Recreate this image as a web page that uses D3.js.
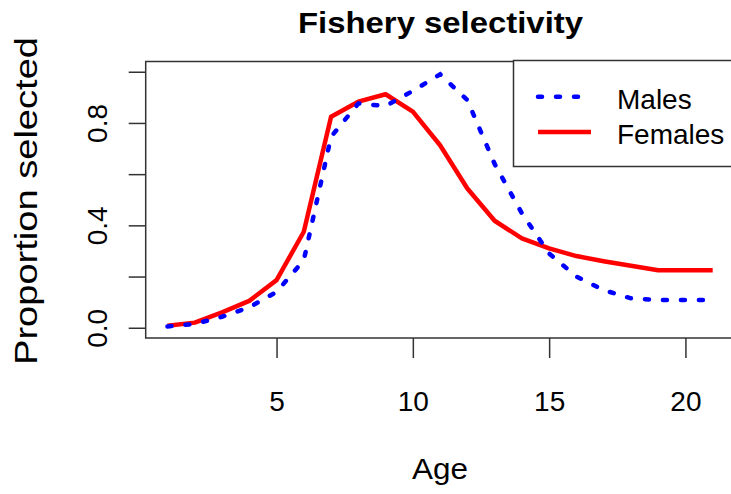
<!DOCTYPE html>
<html>
<head>
<meta charset="utf-8">
<script src="https://cdn.jsdelivr.net/npm/d3@7"></script>
<style>
  body { margin: 0; background: #fff; }
  text { font-family: "Liberation Sans", Arial, sans-serif; fill: #000; }
</style>
</head>
<body>
<div id="viz"></div>
<script>
const ages = [1, 2, 3, 4, 5, 6, 7, 8, 9, 10, 11, 12, 13, 14, 15, 16, 17, 18, 19, 20, 21];
const males = [0.005, 0.015, 0.043, 0.08, 0.14, 0.264, 0.746, 0.876, 0.866, 0.925, 0.99, 0.889, 0.64, 0.447, 0.29, 0.2, 0.147, 0.115, 0.108, 0.108, 0.108];
const females = [0.008, 0.02, 0.06, 0.105, 0.186, 0.375, 0.824, 0.883, 0.912, 0.844, 0.713, 0.544, 0.418, 0.349, 0.31, 0.28, 0.26, 0.242, 0.225, 0.225, 0.225];
const xTicks = [5, 10, 15, 20];
const yTicks = [0, 0.2, 0.4, 0.6, 0.8, 1.0];
const yLabelled = [0, 0.4, 0.8];
const legendNames = ['Males', 'Females'];

const width = 731;
const height = 494;
const plot = { left: 145.7, right: 734.5, top: 61.5, bottom: 338 };

const x = d3.scaleLinear().domain([0.2, 21.8]).range([plot.left, plot.right]);
const y = d3.scaleLinear().domain([-0.04, 1.04]).range([plot.bottom, plot.top]);

const svg = d3
  .select('#viz')
  .append('svg')
  .attr('width', width)
  .attr('height', height);

svg.append('rect').attr('width', width).attr('height', height).attr('fill', '#fff');

// axes
const xAxis = svg
  .append('g')
  .attr('transform', `translate(0,${plot.bottom})`)
  .call(d3.axisBottom(x).tickValues(xTicks).tickSize(20));

const yAxis = svg
  .append('g')
  .attr('transform', `translate(${plot.left},0)`)
  .call(
    d3.axisLeft(y)
      .tickValues(yTicks)
      .tickSize(17)
      .tickFormat(d => (yLabelled.some(v => Math.abs(v - d) < 1e-9) ? d.toFixed(1) : ''))
  );

[xAxis, yAxis].forEach(g => {
  g.select('.domain').remove();
  g.selectAll('.tick line').attr('stroke', '#333').attr('stroke-width', 1.5);
  g.selectAll('.tick text')
    .style('font-family', '"Liberation Sans", Arial, sans-serif')
    .style('font-size', '28px')
    .attr('fill', '#000');
});

xAxis.selectAll('.tick text').attr('dy', null).attr('y', 73);

yAxis.selectAll('.tick text')
  .attr('x', null)
  .attr('dy', null)
  .attr('text-anchor', 'middle')
  .attr('transform', 'translate(-39,0) rotate(-90)');

// plot box
svg
  .append('rect')
  .attr('x', plot.left)
  .attr('y', plot.top)
  .attr('width', plot.right - plot.left)
  .attr('height', plot.bottom - plot.top)
  .attr('fill', 'none')
  .attr('stroke', '#333')
  .attr('stroke-width', 1.5);

// lines
const line = d3.line().x((d, i) => x(ages[i])).y(d => y(d));

svg
  .append('path')
  .datum(females)
  .attr('d', line)
  .attr('fill', 'none')
  .attr('stroke', '#ff0000')
  .attr('stroke-width', 4.5)
  .attr('stroke-linejoin', 'round');

svg
  .append('path')
  .datum(males)
  .attr('d', line)
  .attr('fill', 'none')
  .attr('stroke', '#0000ff')
  .attr('stroke-width', 4.5)
  .attr('stroke-linecap', 'round')
  .attr('stroke-dasharray', '4,14');

// legend
const legend = svg.append('g');
legend
  .append('rect')
  .attr('x', 513.5)
  .attr('y', plot.top - 1)
  .attr('width', plot.right - 513.5)
  .attr('height', 106)
  .attr('fill', '#fff')
  .attr('stroke', '#333')
  .attr('stroke-width', 1.5);

const legendStyles = [
  { color: '#0000ff', dash: '4,14', cap: 'round' },
  { color: '#ff0000', dash: null, cap: 'butt' }
];

legendNames.forEach((name, i) => {
  const ly = 96.7 + i * 35.3;
  legend
    .append('line')
    .attr('x1', 538)
    .attr('x2', 591)
    .attr('y1', ly)
    .attr('y2', ly)
    .attr('stroke', legendStyles[i].color)
    .attr('stroke-width', 4.5)
    .attr('stroke-linecap', legendStyles[i].cap)
    .attr('stroke-dasharray', legendStyles[i].dash);
  legend
    .append('text')
    .attr('x', 617)
    .attr('y', ly + 12)
    .style('font-size', '28px')
    .text(name);
});

// titles
svg
  .append('text')
  .attr('x', 440.5)
  .attr('y', 33)
  .attr('text-anchor', 'middle')
  .attr('textLength', 285)
  .attr('lengthAdjust', 'spacingAndGlyphs')
  .style('font-size', '29px')
  .style('font-weight', 'bold')
  .text('Fishery selectivity');

svg
  .append('text')
  .attr('x', 440)
  .attr('y', 479)
  .attr('text-anchor', 'middle')
  .attr('textLength', 56)
  .attr('lengthAdjust', 'spacingAndGlyphs')
  .style('font-size', '29px')
  .text('Age');

svg
  .append('text')
  .attr('transform', 'translate(37,201) rotate(-90)')
  .attr('text-anchor', 'middle')
  .attr('textLength', 328)
  .attr('lengthAdjust', 'spacingAndGlyphs')
  .style('font-size', '31px')
  .text('Proportion selected');
</script>
</body>
</html>
